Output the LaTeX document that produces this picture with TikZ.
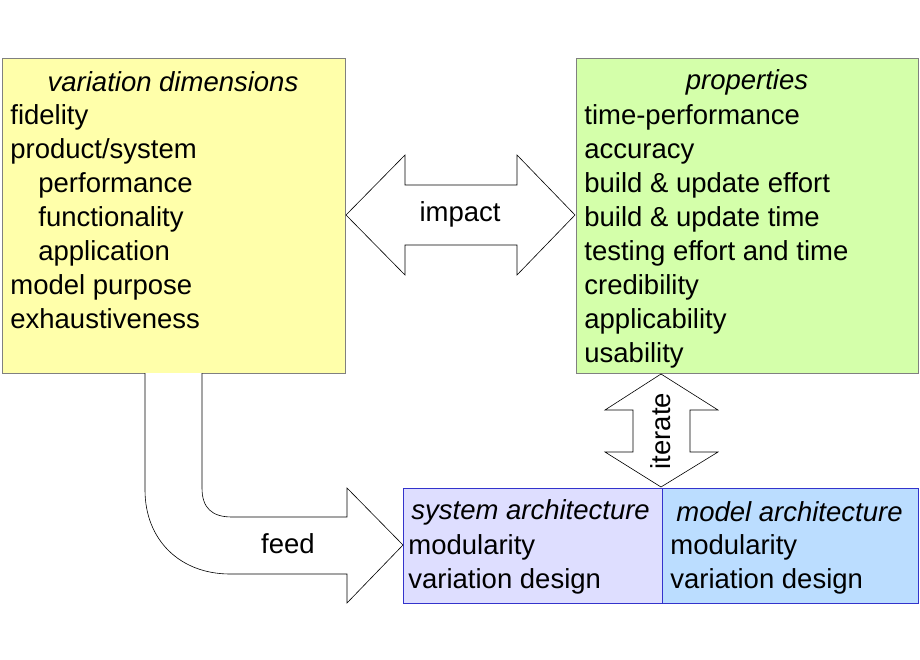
\documentclass[tikz,border=0pt]{standalone}
\usepackage{fontspec}
\setmainfont{Liberation Sans}
\usetikzlibrary{positioning}
\definecolor{dimfill}{RGB}{255,255,170}
\definecolor{propfill}{RGB}{212,255,170}
\definecolor{sysfill}{RGB}{222,222,255}
\definecolor{modfill}{RGB}{187,221,255}
\definecolor{archline}{RGB}{51,51,204}
\tikzset{every picture/.style={line width=0.75pt}}
\tikzset{
  box/.style={draw=gray, inner sep=0pt, anchor=north west},
  txt/.style={font=\fontsize{27.5}{34}\selectfont, inner sep=0pt, align=left, anchor=north west},
  ttl/.style={font=\fontsize{27.5}{34}\selectfont\itshape, inner sep=0pt},
  lbl/.style={font=\fontsize{27.5}{34}\selectfont, inner sep=0pt},
  arr/.style={draw=black, fill=white, line width=0.6pt, line join=miter}
}
\begin{document}
\begin{tikzpicture}[x=1pt,y=1pt,yscale=-1]
\useasboundingbox (0,0) rectangle (920,660);

% boxes
\node [box, fill=dimfill, minimum width=343, minimum height=315] (dim) at (2,58) {};
\node [box, fill=propfill, minimum width=342, minimum height=315] (prop) at (576,58) {};
\node [box, draw=archline, fill=sysfill, minimum width=259, minimum height=115] (sys) at (403,488) {};
\node [box, draw=archline, fill=modfill, minimum width=256, minimum height=115] (mod) at (662,488) {};

% impact
\draw [arr] (346,215) -- (405,155) -- (405,185) -- (517,185) -- (517,155) -- (575,215)
  -- (517,275) -- (517,245) -- (405,245) -- (405,275) -- cycle;
\node [lbl] (impact) at (460,214) {impact};

% iterate
\draw [arr] (661,374) -- (718,410) -- (690,410) -- (690,452) -- (718,452) -- (661,487)
  -- (605,452) -- (633,452) -- (633,410) -- (605,410) -- cycle;
\node [lbl, rotate=90] (iterate) at (661,431) {iterate};

% feed
\draw [arr] (145,373) -- (145,490) .. controls (145,540) and (180,574) .. (230,574) -- (347,574)
  -- (347,603) -- (403,545) -- (347,488) -- (347,517) -- (232,517)
  .. controls (212,517) and (202,508) .. (202,488) -- (202,373);
\node [lbl] (feed) at (288,544) {feed};

% texts
\node [ttl] (dimttl) at (173,82) {variation dimensions};
\node [txt] (dimtxt) at (10,104) {fidelity\\product/system\\\hspace{28pt}performance\\\hspace{28pt}functionality\\\hspace{28pt}application\\model purpose\\exhaustiveness};
\node [ttl] (propttl) at (747,82) {properties};
\node [txt] (proptxt) at (584,104) {time-performance\\accuracy\\build \& update effort\\build \& update time\\testing effort and time\\credibility\\applicability\\usability};
\node [ttl, anchor=west] (systtl) at (411,512) {system architecture};
\node [txt] (systxt) at (408,534) {modularity\\variation design};
\node [ttl, anchor=west] (modttl) at (676,512) {model architecture};
\node [txt] (modtxt) at (670,534) {modularity\\variation design};
\end{tikzpicture}
\end{document}
